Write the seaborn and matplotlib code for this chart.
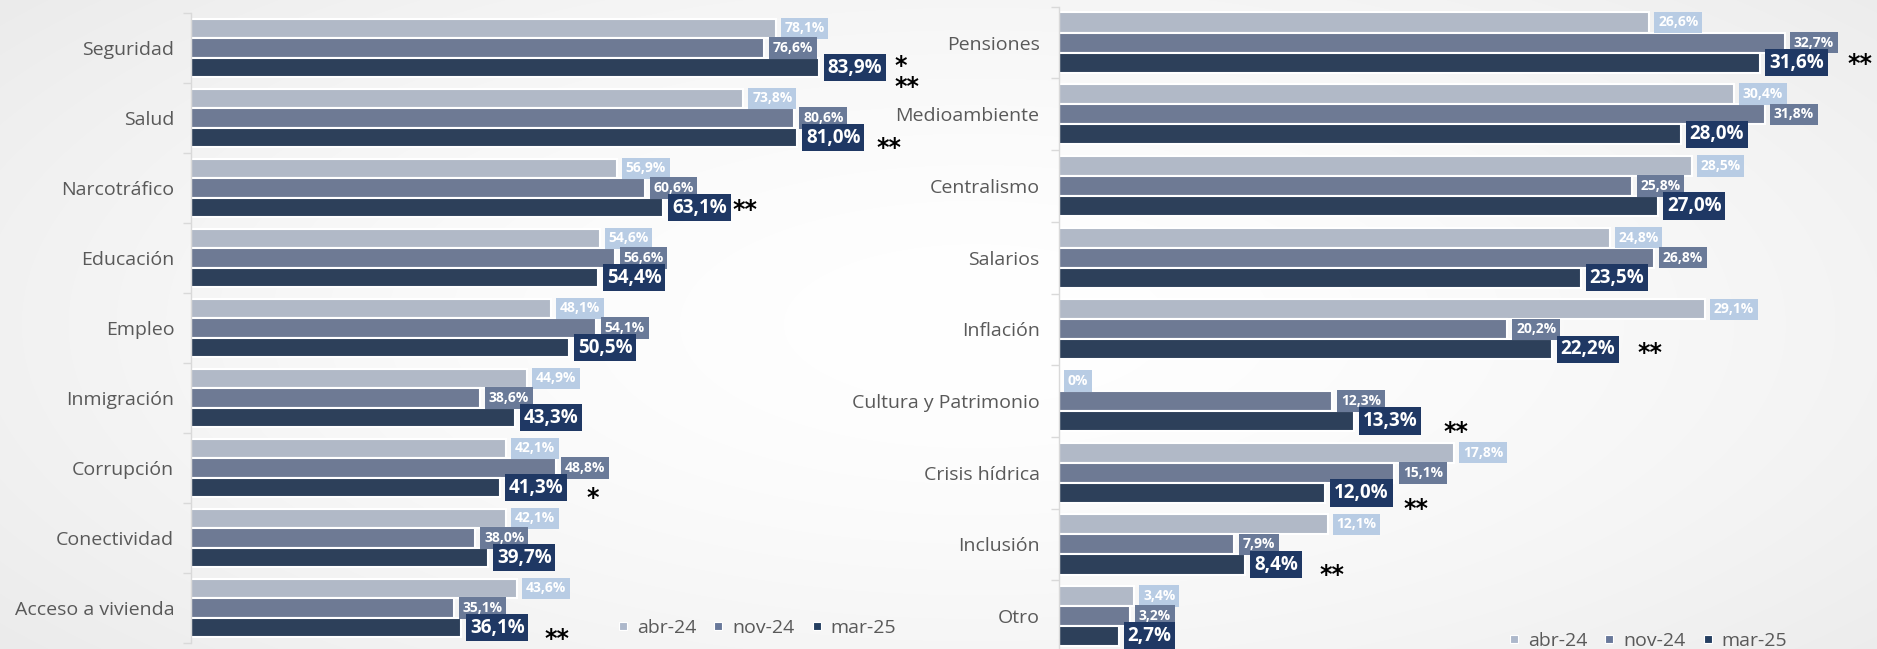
import numpy as np
import pandas as pd
import matplotlib
matplotlib.use("Agg")
import matplotlib.pyplot as plt
from matplotlib.lines import Line2D
import seaborn as sns

# ---------------- data ----------------
series = ["abr-24", "nov-24", "mar-25"]

left_cats = ["Seguridad", "Salud", "Narcotráfico", "Educación", "Empleo",
             "Inmigración", "Corrupción", "Conectividad", "Acceso a vivienda"]
left_abr = [78.1, 73.8, 56.9, 54.6, 48.1, 44.9, 42.1, 42.1, 43.6]
left_nov = [76.6, 80.6, 60.6, 56.6, 54.1, 38.6, 48.8, 38.0, 35.1]
left_mar = [83.9, 81.0, 63.1, 54.4, 50.5, 43.3, 41.3, 39.7, 36.1]

right_cats = ["Pensiones", "Medioambiente", "Centralismo", "Salarios", "Inflación",
              "Cultura y Patrimonio", "Crisis hídrica", "Inclusión", "Otro"]
right_abr = [26.6, 30.4, 28.5, 24.8, 29.1, 0.0, 17.8, 12.1, 3.4]
right_nov = [32.7, 31.8, 25.8, 26.8, 20.2, 12.3, 15.1, 7.9, 3.2]
right_mar = [31.6, 28.0, 27.0, 23.5, 22.2, 13.3, 12.0, 8.4, 2.7]

# significance marks (category, text)
left_mark_cats = ["Seguridad", "Seguridad", "Salud", "Narcotráfico", "Corrupción", "Acceso a vivienda"]
left_mark_text = ["*", "**", "**", "**", "*", "**"]
right_mark_cats = ["Pensiones", "Inflación", "Cultura y Patrimonio", "Crisis hídrica", "Inclusión"]
right_mark_text = ["**", "**", "**", "**", "**"]

# ---------------- style ----------------
bar_colors = ["#adb8cb", "#68789a", "#253f61"]
box_colors = ["#b8cce4", "#6a7a98", "#1f3864"]
label_sizes = [10, 10, 13.5]
label_pads = [0.27, 0.27, 0.2]
txt_gray = "#595959"
num_font = "Open Sans"
# (gap px after mar label box, vertical px offset of glyph centre from mar bar centre)
left_mark_off = [(8, -8), (8, 13), (12, 3.5), (2, -4), (19, 3.5), (16, 5)]
right_mark_off = [(20, -5.5), (18, -2.5), (21.5, 4), (11, 10), (17.6, 3.7)]

W, H = 1877, 649
fig = plt.figure(figsize=(W / 100, H / 100), dpi=100)

# soft radial background
bg = fig.add_axes([0, 0, 1, 1], zorder=-10)
yy, xx = np.mgrid[0:1:H * 1j, 0:1:W * 1j]
r = np.sqrt(((xx - 0.52) / 0.62) ** 2 + ((yy - 0.5) / 0.75) ** 2)
g = 1.0 - 0.07 * np.clip(r, 0, 1.3) ** 1.6
bg.imshow(np.dstack([g, g, g]), aspect="auto", extent=[0, 1, 0, 1])
bg.axis("off")


def fmt(v):
    if v == 0:
        return "0%"
    return f"{v:.1f}".replace(".", ",") + "%"


def panel(rect, xmax, cats, abr, nov, mar, mark_cats, mark_text, mark_off, leg_anchor, label_pad):
    ax = fig.add_axes(rect)
    ax.set_facecolor("none")
    df = pd.DataFrame({
        "tema": cats * 3,
        "serie": [series[0]] * len(cats) + [series[1]] * len(cats) + [series[2]] * len(cats),
        "valor": list(abr) + list(nov) + list(mar),
    })
    sns.barplot(data=df, x="valor", y="tema", hue="serie", order=cats, hue_order=series,
                palette=bar_colors, orient="h", width=0.84, edgecolor="white",
                linewidth=1.5, errorbar=None, legend=False, ax=ax)
    ax.set_xlim(0, xmax)
    ax.set_ylim(len(cats) - 0.5, -0.5)

    mar_labels = []
    for k, cont in enumerate(ax.containers):
        fs = label_sizes[k]
        pd_ = label_pads[k]
        for bar in cont:
            w = bar.get_width()
            yc = bar.get_y() + bar.get_height() / 2
            t = ax.annotate(fmt(w), xy=(w, yc), xytext=(3.6 + pd_ * fs, 0),
                            textcoords="offset points", ha="left", va="center",
                            fontsize=fs, fontweight="bold", color="white", family=num_font,
                            bbox=dict(boxstyle=f"square,pad={pd_}", fc=box_colors[k], ec="none"),
                            annotation_clip=False, zorder=5 + k)
            if k == 2:
                mar_labels.append(t)

    fs_ast = 17
    for c, s, (gap, dy) in zip(mark_cats, mark_text, mark_off):
        lab = mar_labels[cats.index(c)]
        ax.annotate(s, xy=(1, 0.5), xycoords=lab,
                    xytext=(label_pads[2] * label_sizes[2] + gap * 0.72, -dy * 0.72 - 0.57 * fs_ast),
                    textcoords="offset points", ha="left", va="baseline",
                    fontsize=fs_ast, fontweight="bold", color="black", family="DejaVu Sans",
                    annotation_clip=False, zorder=10)

    # axes styling
    for sp in ["top", "right", "bottom"]:
        ax.spines[sp].set_visible(False)
    ax.spines["left"].set_color("#d9d9d9")
    ax.spines["left"].set_linewidth(1)
    ax.xaxis.set_visible(False)
    ax.set_ylabel("")
    ax.set_yticks(range(len(cats)))
    ax.set_yticklabels(cats)
    ax.set_yticks(np.arange(-0.5, len(cats), 1), minor=True)
    ax.tick_params(axis="y", which="major", length=0, pad=label_pad, labelsize=14,
                   labelcolor=txt_gray)
    ax.tick_params(axis="y", which="minor", length=6, width=1, color="#d9d9d9", direction="out")
    for lbl in ax.get_yticklabels():
        lbl.set_fontfamily(num_font)

    handles = [Line2D([], [], marker="s", ls="none", markersize=6, mfc=c, mec="white", mew=0.8)
               for c in bar_colors]
    ax.legend(handles, series, loc="center", bbox_to_anchor=leg_anchor, ncol=3, frameon=False,
              prop=dict(family=num_font, size=14), labelcolor=txt_gray,
              handlelength=0.7, handletextpad=0.35, columnspacing=0.8, borderaxespad=0)
    return ax


panel([191 / W, 6 / H, 748.5 / W, 630 / H], 100, left_cats, left_abr, left_nov, left_mar,
      left_mark_cats, left_mark_text, left_mark_off, (0.755, 0.024), 12)
panel([1059 / W, -3 / H, 818 / W, 645.3 / H], 36.85, right_cats, right_abr, right_nov, right_mar,
      right_mark_cats, right_mark_text, right_mark_off, (0.719, 0.017), 14)

fig.savefig("out.png", dpi=100)
